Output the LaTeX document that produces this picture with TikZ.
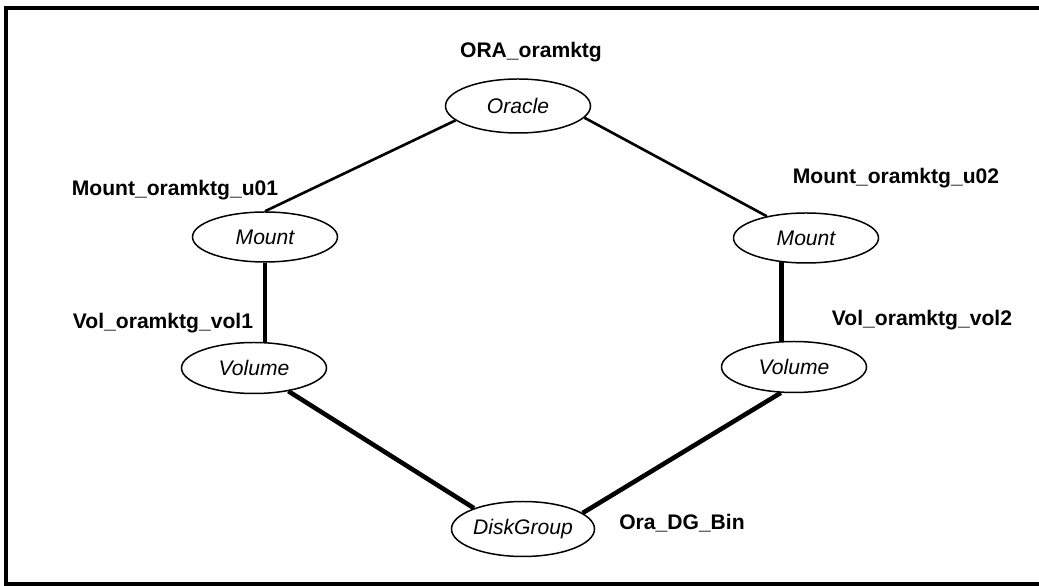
\documentclass[tikz,border=0pt]{standalone}
\usepackage{fontspec}
\setmainfont{Liberation Sans}
\usepackage{tikz}
\usetikzlibrary{positioning}
\usetikzlibrary{shapes.geometric}

\begin{document}
\begin{tikzpicture}[on grid,
    res/.style={ellipse, draw, line width=0.85pt, minimum width=2.9cm, minimum height=1cm, inner sep=0pt, font=\fontsize{12pt}{14pt}\selectfont\itshape},
    lbl/.style={inner sep=0pt, font=\fontsize{12pt}{14pt}\selectfont\bfseries},
    thin link/.style={line width=1.5pt},
    thick link/.style={line width=2.6pt}]
      \useasboundingbox (0,0) rectangle (20.78,11.72);
      \draw[line width=0.08cm] (20.9,0.04) -- (0.11,0.04) -- (0.11,11.56) -- (20.9,11.56);

      \node(or) [res, minimum height=1.08cm] at (10.36,9.60) {Oracle};
      \node(m1) [res, below left=2.62cm and 5.06cm of or] {Mount};
      \node(m2) [res, below right=2.64cm and 5.76cm of or] {Mount};
      \node(v1) [res, minimum height=1.02cm, below left=2.62cm and 0.22cm of m1] {Volume};
      \node(v2) [res, minimum height=1.02cm, below left=2.58cm and 0.24cm of m2] {Volume};
      \node(dg) [res, minimum width=2.86cm, minimum height=1.1cm, below right=3.22cm and 5.38cm of v1] {DiskGroup};

      \node(orl) [lbl, above right=1.08cm and 0.26cm of or] {ORA\_oramktg};
      \node(m1l) [lbl, above left=0.94cm and 1.80cm of m1] {Mount\_oramktg\_u01};
      \node(m2l) [lbl, above right=1.20cm and 1.80cm of m2] {Mount\_oramktg\_u02};
      \node(v1l) [lbl, above left=0.90cm and 1.82cm of v1] {Vol\_oramktg\_vol1};
      \node(v2l) [lbl, above right=0.94cm and 2.56cm of v2] {Vol\_oramktg\_vol2};
      \node(dgl) [lbl, above right=0.12cm and 3.18cm of dg] {Ora\_DG\_Bin};

      \draw[thin link](or.193) -- (m1.north);
      \draw[thin link](or.-10) -- (m2.151);
      \draw[thick link](m1.south) -- (m1.south |- v1.north);
      \draw[thick link](m2.225) -- (m2.225 |- v2.north);
      \draw[thick link](v1.-34) -- (dg.157);
      \draw[thick link](v2.243) -- (dg.15);
    \end{tikzpicture}
\end{document}
